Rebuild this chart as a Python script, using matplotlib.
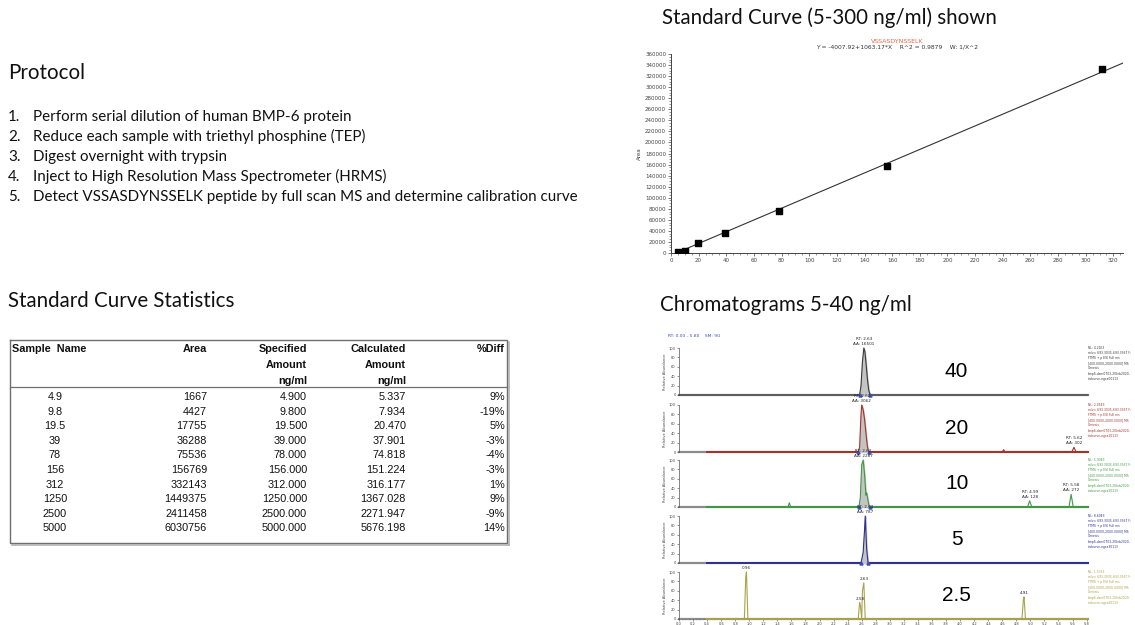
import matplotlib
matplotlib.use("Agg")
import matplotlib.pyplot as plt
from matplotlib.ticker import MultipleLocator, FixedLocator

# --- slide text ---
protocol_steps = [
    "Perform serial dilution of human BMP-6 protein",
    "Reduce each sample with triethyl phosphine (TEP)",
    "Digest overnight with trypsin",
    "Inject to High Resolution Mass Spectrometer (HRMS)",
    "Detect VSSASDYNSSELK peptide by full scan MS and determine calibration curve",
]

# --- standard curve statistics table ---
sample_names = ["4.9", "9.8", "19.5", "39", "78", "156", "312", "1250", "2500", "5000"]
areas = [1667, 4427, 17755, 36288, 75536, 156769, 332143, 1449375, 2411458, 6030756]
specified = [4.9, 9.8, 19.5, 39.0, 78.0, 156.0, 312.0, 1250.0, 2500.0, 5000.0]
calculated = [5.337, 7.934, 20.470, 37.901, 74.818, 151.224, 316.177, 1367.028, 2271.947, 5676.198]
pct_diff = [9, -19, 5, -3, -4, -3, 1, 9, -9, 14]
n_curve_points = 7  # 5-300 ng/ml shown in the plot

fit_intercept = -4007.92
fit_slope = 1063.17
fit_r2 = 0.9879
curve_x_end = 327

# --- chromatograms (retention time in min, relative abundance in %) ---
panel_labels = ["40", "20", "10", "5", "2.5"]
panel_colors = ["#3a3a3a", "#a3342c", "#3f9a44", "#2e3192", "#a8a34a"]
panel_nl = ["4.21E3", "2.05E3", "5.93E3", "8.60E3", "1.53E3"]
panel_trace_start = [0.0, 0.4, 0.4, 0.4, 0.4]

trace_rt = [
    [0.0, 2.57, 2.59, 2.61, 2.63, 2.645, 2.66, 2.68, 2.70, 2.72, 5.82],
    [0.4, 2.55, 2.57, 2.59, 2.60, 2.62, 2.64, 2.66, 2.68, 2.70, 4.60, 4.62, 4.64,
     5.59, 5.62, 5.65, 5.82],
    [0.4, 1.55, 1.57, 1.59, 2.56, 2.58, 2.60, 2.62, 2.64, 2.66, 2.67, 2.68, 2.70,
     2.72, 4.96, 4.99, 5.02, 5.55, 5.58, 5.61, 5.82],
    [0.4, 2.59, 2.61, 2.62, 2.64, 2.65, 2.67, 2.69, 5.82],
    [0.4, 0.93, 0.95, 0.96, 0.98, 2.55, 2.57, 2.58, 2.60, 2.61, 2.63, 2.65,
     4.88, 4.90, 4.91, 4.93, 5.82],
]
trace_ab = [
    [0, 0, 20, 70, 100, 92, 70, 35, 10, 0, 0],
    [0, 0, 10, 80, 100, 90, 70, 40, 12, 0, 0, 5, 0, 0, 10, 0, 0],
    [0, 0, 9, 0, 0, 20, 90, 100, 70, 25, 30, 22, 5, 0, 0, 13, 0, 0, 27, 0, 0],
    [0, 0, 15, 22, 70, 100, 30, 0, 0],
    [0, 0, 90, 100, 0, 0, 35, 30, 0, 60, 77, 0, 0, 40, 47, 0, 0],
]
# filled (integrated) main peak window per panel
fill_window = [(2.57, 2.72), (2.55, 2.70), (2.56, 2.72), (2.59, 2.69), None]

peak_rt = [[2.63], [2.60, 5.62], [2.62, 4.99, 5.58], [2.65], [0.96, 2.58, 2.63, 4.91]]
peak_ab = [[100], [100, 10], [100, 13, 27], [100], [100, 35, 77, 47]]
peak_text = [
    ["RT: 2.63\nAA: 16501"],
    ["RT: 2.60\nAA: 3062", "RT: 5.62\nAA: 302"],
    ["RT: 2.62\nAA: 2287", "RT: 4.99\nAA: 128", "RT: 5.58\nAA: 272"],
    ["RT: 2.63\nAA: 787"],
    ["0.96", "2.58", "2.63", "4.91"],
]

W, H = 1135, 625
fig = plt.figure(figsize=(W / 100, H / 100), dpi=100)
fig.patch.set_facecolor("white")

# full-slide overlay in pixel coordinates for text and table
bg = fig.add_axes([0, 0, 1, 1], zorder=0)
bg.set_xlim(0, W)
bg.set_ylim(H, 0)
bg.axis("off")

title_font = "Lato"
title_size = 14.8
bg.text(8, 73, "Protocol", fontsize=title_size, family=title_font, va="center", color="#111111")
for i, step in enumerate(protocol_steps):
    y = 121 + i * 20
    bg.text(8, y, f"{i + 1}.", fontsize=10.9, family=title_font, va="baseline", color="#111111")
    bg.text(33, y, step, fontsize=10.9, family=title_font, va="baseline", color="#111111")

bg.text(8, 301, "Standard Curve Statistics", fontsize=title_size, family=title_font, va="center", color="#111111")
bg.text(662, 18, "Standard Curve (5-300 ng/ml) shown", fontsize=title_size, family=title_font, va="center", color="#111111")
bg.text(660, 305, "Chromatograms 5-40 ng/ml", fontsize=title_size, family=title_font, va="center", color="#111111")

# table
tbl_font = "Liberation Sans"
tbl_size = 7.8
frame_l, frame_r, frame_t, frame_b = 10, 507, 340, 543
bg.plot([frame_l, frame_r, frame_r, frame_l, frame_l],
        [frame_t, frame_t, frame_b, frame_b, frame_t], color="#6f6f6f", lw=1.0)
bg.plot([frame_r + 1.5, frame_r + 1.5], [frame_t + 2, frame_b + 1.5], color="#b0b0b0", lw=1.2)
bg.plot([frame_l + 2, frame_r + 1.5], [frame_b + 1.5, frame_b + 1.5], color="#b0b0b0", lw=1.2)
bg.plot([frame_l, frame_r], [387, 387], color="#6f6f6f", lw=0.9)

hdr_y = [349, 365, 381]
hdr_kw = dict(fontsize=tbl_size, weight="bold", family=tbl_font, va="center", color="#111111")
bg.text(12, hdr_y[0], "Sample  Name", **hdr_kw)
bg.text(207, hdr_y[0], "Area", ha="right", **hdr_kw)
for col_x, words in [(307, ["Specified", "Amount", "ng/ml"]), (406, ["Calculated", "Amount", "ng/ml"])]:
    for y, w in zip(hdr_y, words):
        bg.text(col_x, y, w, ha="right", **hdr_kw)
bg.text(505, hdr_y[0], "%Diff", ha="right", **hdr_kw)

for i in range(len(sample_names)):
    y = 397 + i * 14.6
    kw = dict(fontsize=tbl_size, family=tbl_font, va="center", color="#111111")
    bg.text(55, y, sample_names[i], ha="center", **kw)
    bg.text(207, y, f"{areas[i]}", ha="right", **kw)
    bg.text(307, y, f"{specified[i]:.3f}", ha="right", **kw)
    bg.text(406, y, f"{calculated[i]:.3f}", ha="right", **kw)
    bg.text(505, y, f"{pct_diff[i]}%", ha="right", **kw)


def px_axes(left, top, right, bottom, **kw):
    return fig.add_axes([left / W, (H - bottom) / H, (right - left) / W, (bottom - top) / H], **kw)


# --- standard curve plot ---
ax = px_axes(671, 54, 1123, 253, zorder=2)
ax.set_facecolor("none")
cx = specified[:n_curve_points]
cy = areas[:n_curve_points]
line_x = [cx[0], curve_x_end]
line_y = [fit_intercept + fit_slope * v for v in line_x]
ax.plot(line_x, line_y, color="#333333", lw=0.8)
ax.scatter(cx, cy, marker="s", s=22, color="black", zorder=3)
ax.set_xlim(0, curve_x_end)
ax.set_ylim(0, 360000)
ax.xaxis.set_major_locator(MultipleLocator(20))
ax.xaxis.set_minor_locator(MultipleLocator(5))
ax.yaxis.set_major_locator(MultipleLocator(20000))
ax.yaxis.set_minor_locator(MultipleLocator(5000))
ax.yaxis.set_major_formatter(plt.FuncFormatter(lambda v, p: f"{v:.0f}"))
for s in ["top", "right"]:
    ax.spines[s].set_visible(False)
for s in ["left", "bottom"]:
    ax.spines[s].set_color("#444444")
    ax.spines[s].set_linewidth(0.7)
ax.tick_params(which="major", length=2.5, width=0.5, labelsize=4, pad=1, colors="#444444")
ax.tick_params(which="minor", length=1.5, width=0.4, colors="#444444")
ax.set_ylabel("Area", fontsize=4, labelpad=2, color="#444444")
ax.text(0.5, 1.065, "VSSASDYNSSELK", transform=ax.transAxes, ha="center", va="center",
        fontsize=4.5, color="#e8674a")
ax.text(0.5, 1.035, f"Y = {fit_intercept}+{fit_slope}*X    R^2 = {fit_r2}    W: 1/X^2",
        transform=ax.transAxes, ha="center", va="center", fontsize=4.3, color="#333333")

# --- chromatograms ---
bg.text(668, 336, "RT: 0.00 - 5.80    SM: 9G", fontsize=3.2, color="#3b4fb8", va="center")
baselines = [395, 452, 507, 563, 619]
for k in range(len(panel_labels)):
    y0 = baselines[k]
    cax = px_axes(679, y0 - 47, 1088, y0, zorder=2)
    cax.set_facecolor("none")
    col = panel_colors[k]
    rt, ab = trace_rt[k], trace_ab[k]
    cax.plot([0, 5.82], [0, 0], color="#8c8c8c", lw=1.6, clip_on=False, zorder=1)
    if panel_trace_start[k] > 0:
        cax.plot([panel_trace_start[k], 5.82], [0, 0], color=col, lw=1.4, clip_on=False, zorder=2)
    if fill_window[k] is not None:
        a, b = fill_window[k]
        fx = [t for t in rt if a <= t <= b]
        fy = [v for t, v in zip(rt, ab) if a <= t <= b]
        cax.fill_between(fx, fy, color="#c4c4c4", zorder=2)
        cax.plot([a, b], [0, 0], ls="none", marker="^", ms=2.2, color="#3b4fb8", zorder=4, clip_on=False)
    cax.plot(rt, ab, color=col, lw=0.8, zorder=3, clip_on=False)
    for t, v, s in zip(peak_rt[k], peak_ab[k], peak_text[k]):
        cax.text(t, v + 4, s, fontsize=3, ha="center", va="bottom", color="#222222",
                 linespacing=1.4, clip_on=False)
    cax.text(3.95, 50, panel_labels[k], fontsize=15, ha="center", va="center", family="Liberation Sans")
    info = (f"NL: {panel_nl[k]}\nm/z= 693.3035-693.3367 F:\nFTMS + p ESI Full ms\n"
            f"[400.0000-2000.0000] MS\nGenesis\nbmp6-dsm0703-20feb2020-\nstdcurve-ngsa{k}0113")
    cax.text(1.0, 1.05, info, transform=cax.transAxes, fontsize=2.2, va="top", ha="left",
             color=col, linespacing=1.4)
    cax.set_xlim(0, 5.82)
    cax.set_ylim(0, 100)
    cax.yaxis.set_major_locator(FixedLocator([0, 20, 40, 60, 80, 100]))
    cax.xaxis.set_major_locator(MultipleLocator(0.2))
    cax.xaxis.set_minor_locator(MultipleLocator(0.05))
    for s in ["top", "right"]:
        cax.spines[s].set_visible(False)
    cax.spines["left"].set_color("#555555")
    cax.spines["left"].set_linewidth(0.5)
    cax.spines["bottom"].set_visible(False)
    cax.tick_params(axis="y", length=1.5, width=0.4, labelsize=2.6, pad=0.8, colors="#444444")
    cax.set_ylabel("Relative Abundance", fontsize=2.6, labelpad=1.5, color="#444444")
    if k < len(panel_labels) - 1:
        cax.tick_params(axis="x", which="both", bottom=False, labelbottom=False)
    else:
        cax.tick_params(axis="x", which="major", length=1.5, width=0.4, labelsize=2.6, pad=0.8,
                        colors="#444444")
        cax.tick_params(axis="x", which="minor", length=1, width=0.3, colors="#444444")
        cax.xaxis.set_major_formatter(plt.FuncFormatter(lambda v, p: f"{v:.1f}"))

fig.savefig("out.png", dpi=100, facecolor="white")
